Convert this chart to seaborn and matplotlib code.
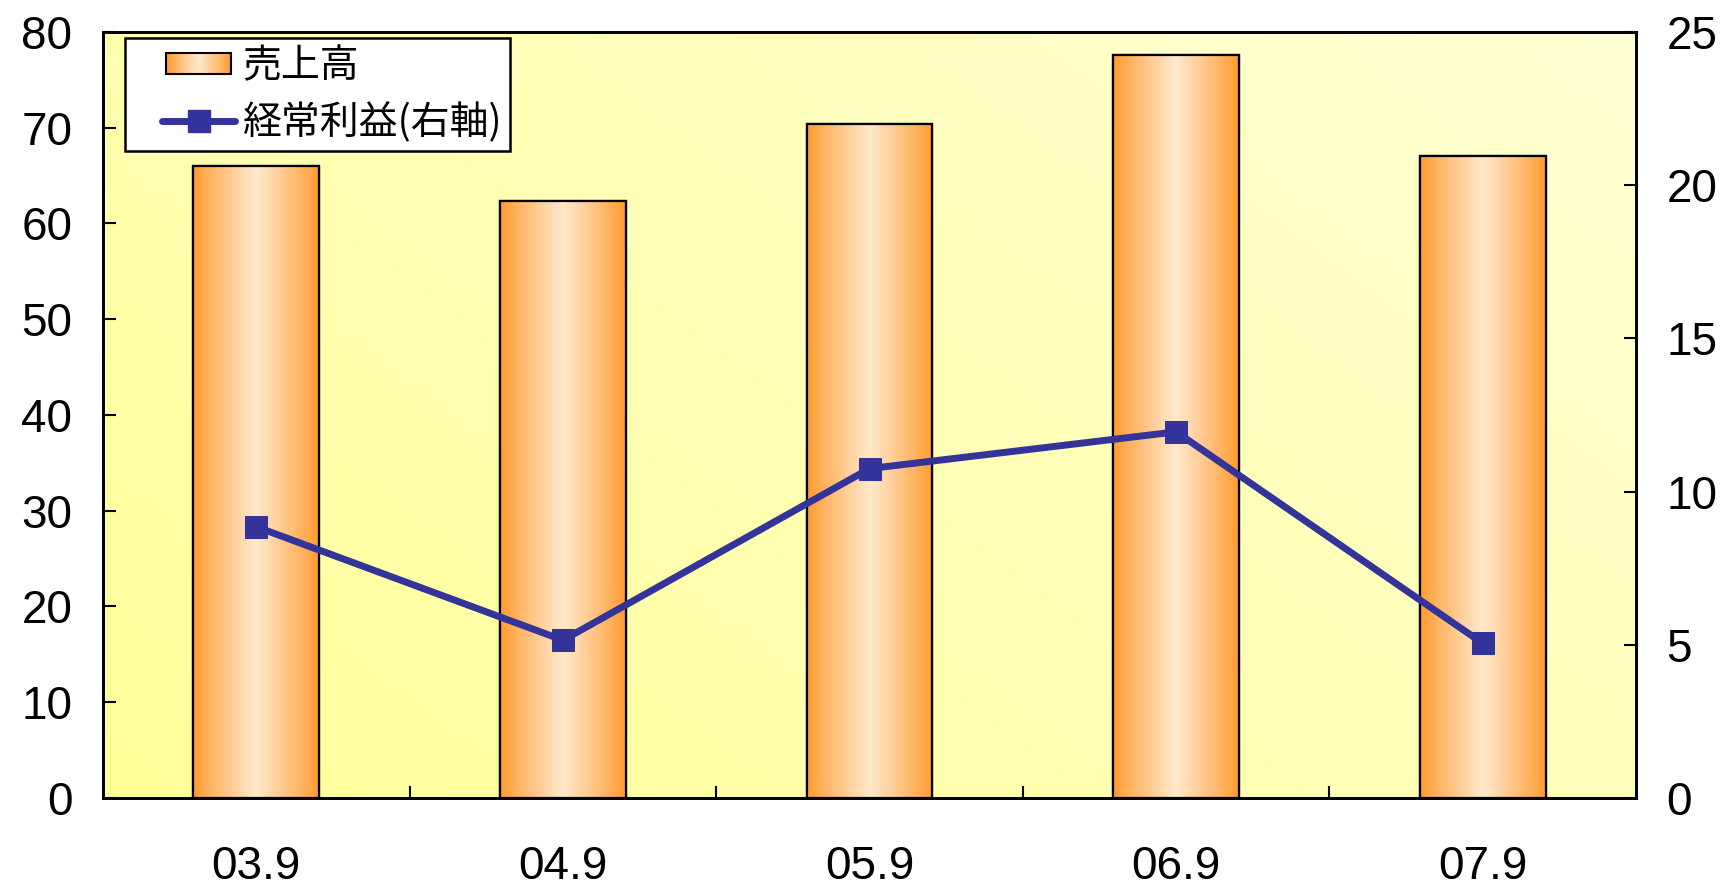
import numpy as np
import pandas as pd
import seaborn as sns
import matplotlib.pyplot as plt
from matplotlib.patches import Rectangle
from matplotlib.collections import PatchCollection
from matplotlib.colors import to_rgb
from matplotlib.legend_handler import HandlerBase, HandlerLine2D
from matplotlib.lines import Line2D

# data
periods = ["03.9", "04.9", "05.9", "06.9", "07.9"]
sales = [66.0, 62.4, 70.4, 77.6, 67.0]          # 売上高 (left axis)
profit = [8.85, 5.15, 10.75, 11.95, 5.05]       # 経常利益 (right axis)

ORANGE = np.array(to_rgb("#FF9A2E"))
LIGHT = np.array(to_rgb("#FFE9CC"))
NAVY = "#333399"


def bar_colors(n):
    t = np.linspace(0, 1, n)
    w = (1 - np.abs(2 * t - 1)) ** 0.9
    return ORANGE[None, :] + (LIGHT - ORANGE)[None, :] * w[:, None]


class GradientBarHandler(HandlerBase):
    def create_artists(self, legend, orig_handle, xdescent, ydescent,
                       width, height, fontsize, trans):
        n = 40
        cols = bar_colors(n)
        inset = width * 0.05
        x0 = -xdescent + inset
        w = width - 2 * inset
        h = height * 0.85
        y0 = -ydescent + (height - h) / 2
        strips = [Rectangle((x0 + i * w / n, y0), w / n * 1.05, h)
                  for i in range(n)]
        pc = PatchCollection(strips, facecolors=cols, edgecolors="none",
                             transform=trans)
        outline = Rectangle((x0, y0), w, h, facecolor="none",
                            edgecolor="black", linewidth=1.5, transform=trans)
        return [pc, outline]


sns.set_theme(style="white")
plt.rcParams["font.family"] = ["Liberation Sans", "DejaVu Sans"]
plt.rcParams["text.color"] = "black"
plt.rcParams["xtick.color"] = "black"
plt.rcParams["ytick.color"] = "black"

fig = plt.figure(figsize=(17.29, 8.91), dpi=100)
ax = fig.add_axes([0.0596, 0.1044, 0.8866, 0.8597])

df = pd.DataFrame({"period": periods, "sales": sales})
sns.barplot(data=df, x="period", y="sales", ax=ax, color="#FF9A2E",
            width=0.41, edgecolor="black", linewidth=1.6, zorder=2)

# background gradient (saturated yellow bottom-left -> pale top-right)
gx, gy = np.meshgrid(np.linspace(0, 1, 300), np.linspace(0, 1, 300))
g = np.clip((gx * 0.6 + gy * 0.4), 0, 1)
c0 = np.array(to_rgb("#FFFF99"))
c1 = np.array(to_rgb("#FFFFD4"))
bg = c0[None, None, :] + (c1 - c0)[None, None, :] * g[..., None]
ax.imshow(bg, extent=[0, 1, 0, 1], transform=ax.transAxes, origin="lower",
          aspect="auto", zorder=0)

# gradient fill inside each bar
grad = bar_colors(200)[None, :, :]
for p in ax.patches:
    x, y = p.get_x(), p.get_y()
    im = ax.imshow(grad, extent=[x, x + p.get_width(), y, y + p.get_height()],
                   aspect="auto", zorder=2.5, interpolation="bilinear")
    im.set_clip_path(p)
    edge = Rectangle((x, y), p.get_width(), p.get_height(), fill=False,
                     edgecolor="black", linewidth=1.6, zorder=3)
    ax.add_patch(edge)

ax.set_xlim(-0.5, 4.5)
ax.set_ylim(0, 80)
ax.set_yticks(range(0, 81, 10))
ax.set_xlabel("")
ax.set_ylabel("")
ax.set_xticks(range(5))
ax.set_xticklabels(periods)
ax.set_xticks([0.5, 1.5, 2.5, 3.5], minor=True)
ax.tick_params(axis="x", which="major", length=0, pad=34, labelsize=33)
ax.tick_params(axis="x", which="minor", direction="in", length=9,
               width=1.5, color="black", bottom=True)
ax.tick_params(axis="y", direction="in", length=9, width=1.5, color="black",
               pad=22, labelsize=33, left=True)

ax2 = ax.twinx()
sns.lineplot(x=list(range(5)), y=profit, ax=ax2, color=NAVY, linewidth=5,
             marker="s", markersize=16, markeredgecolor=NAVY, zorder=5)
ax2.set_ylim(0, 25)
ax2.set_yticks(range(0, 26, 5))
ax2.tick_params(axis="y", direction="in", length=9, width=1.5, color="black",
                pad=22, labelsize=33, right=True)

for a in (ax, ax2):
    for s in a.spines.values():
        s.set_color("black")
        s.set_linewidth(2)
ax.set_xlim(-0.5, 4.5)

bar_handle = Rectangle((0, 0), 1, 1)
line_handle = Line2D([], [], color=NAVY, linewidth=5, marker="s",
                     markersize=16)
leg = ax2.legend([bar_handle, line_handle], ["売上高", "経常利益(右軸)"],
                 handler_map={Rectangle: GradientBarHandler(xpad=0.77),
                              Line2D: HandlerLine2D(xpad=0.77)},
                 loc="upper left", bbox_to_anchor=(0.014, 0.992),
                 borderaxespad=0,
                 frameon=True, fancybox=False, framealpha=1,
                 edgecolor="black", facecolor="white",
                 prop={"family": ["Noto Sans CJK JP", "DejaVu Sans"],
                       "size": 28},
                 handlelength=2.64, handleheight=0.6, labelspacing=0.42,
                 borderpad=0.2, handletextpad=0.2)
leg.get_frame().set_linewidth(1.8)

fig.savefig("out.png", dpi=100)
